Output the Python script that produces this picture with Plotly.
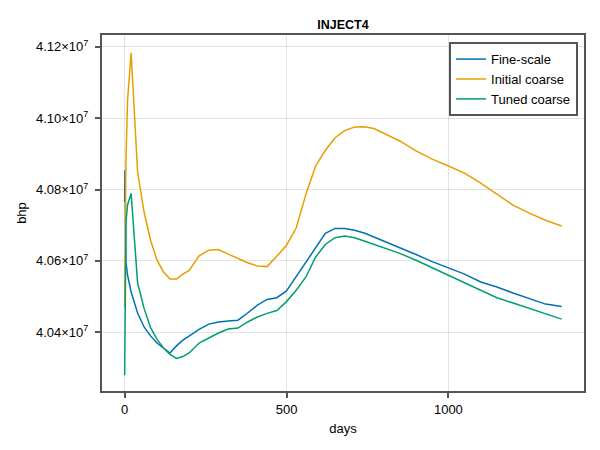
import numpy as np
import plotly.graph_objs as go

# bhp of well INJECT4, values in units of 1e7
days = [0, 1, 4, 9, 20, 40, 60, 80, 100, 120, 140, 160, 180, 200, 230, 260,
        290, 320, 350, 380, 410, 440, 470, 500, 530, 560, 590, 620, 650, 680,
        710, 740, 770, 800, 850, 900, 950, 1000, 1050, 1100, 1150, 1200,
        1250, 1300, 1350]

fine_scale = [4.0765, 4.0854, 4.0597, 4.0560, 4.0513, 4.0454, 4.0415, 4.0390,
              4.0370, 4.0356, 4.0342, 4.0362, 4.0378, 4.0390, 4.0408, 4.0423,
              4.0429, 4.0432, 4.0434, 4.0454, 4.0476, 4.0492, 4.0497, 4.0516,
              4.0556, 4.0597, 4.0639, 4.0677, 4.0691, 4.0691, 4.0686, 4.0678,
              4.0667, 4.0656, 4.0636, 4.0618, 4.0598, 4.0580, 4.0563, 4.0541,
              4.0527, 4.0510, 4.0495, 4.0479, 4.0472]

initial_coarse = [4.0469, 4.0602, 4.0882, 4.1050, 4.1183, 4.0849, 4.0737,
                  4.0658, 4.0602, 4.0569, 4.0549, 4.0549, 4.0563, 4.0574,
                  4.0614, 4.0630, 4.0632, 4.0619, 4.0607, 4.0595, 4.0586,
                  4.0584, 4.0613, 4.0644, 4.0692, 4.0787, 4.0866, 4.0910,
                  4.0945, 4.0965, 4.0975, 4.0976, 4.0971, 4.0958, 4.0936,
                  4.0908, 4.0885, 4.0866, 4.0846, 4.0818, 4.0786, 4.0756,
                  4.0734, 4.0714, 4.0698]

tuned_coarse = [4.0280, 4.0406, 4.0709, 4.0757, 4.0789, 4.0538, 4.0467,
                4.0413, 4.0380, 4.0356, 4.0338, 4.0327, 4.0332, 4.0343,
                4.0370, 4.0384, 4.0398, 4.0409, 4.0412, 4.0429, 4.0443,
                4.0453, 4.0461, 4.0486, 4.0518, 4.0555, 4.0611, 4.0646,
                4.0665, 4.0670, 4.0665, 4.0656, 4.0647, 4.0636, 4.0621,
                4.0602, 4.0581, 4.0560, 4.0538, 4.0517, 4.0497, 4.0482,
                4.0467, 4.0453, 4.0437]

ytick_vals = [4.04e7, 4.06e7, 4.08e7, 4.10e7, 4.12e7]
ytick_text = ['4.04×10<sup>7</sup>', '4.06×10<sup>7</sup>', '4.08×10<sup>7</sup>',
              '4.10×10<sup>7</sup>', '4.12×10<sup>7</sup>']

font = 'Liberation Sans, Arial, sans-serif'
spine = '#555555'
grid = 'rgba(0,0,0,0.11)'

series = [
    ('Fine-scale', fine_scale, '#0072B2'),
    ('Initial coarse', initial_coarse, '#E69F00'),
    ('Tuned coarse', tuned_coarse, '#009E73'),
]

fig = go.Figure()
for name, vals, color in series:
    fig.add_trace(go.Scatter(
        x=days,
        y=np.array(vals) * 1e7,
        mode='lines',
        line=dict(color=color, width=1.5),
        name=name
    ))

fig.update_layout(
    width=600,
    height=450,
    paper_bgcolor='white',
    plot_bgcolor='white',
    font=dict(family=font, size=12, color='black'),
    margin=dict(l=102, r=16, t=35, b=59),
    title=dict(
        text='<b>INJECT4</b>',
        x=(102 + 584) / 2 / 600,
        xanchor='center',
        y=1 - 25 / 450,
        yanchor='middle',
        yref='container',
        font=dict(size=12.5)
    ),
    xaxis=dict(
        title=dict(text='days', standoff=8, font=dict(size=13)),
        range=[-70, 1419],
        tickvals=[0, 500, 1000],
        ticks='outside',
        ticklen=5,
        tickwidth=1.5,
        tickcolor=spine,
        showgrid=True,
        gridcolor=grid,
        zeroline=False,
        showline=True,
        linecolor=spine,
        linewidth=2,
        mirror=True,
        automargin=False,
        tickfont=dict(size=13)
    ),
    yaxis=dict(
        title=dict(text='bhp', standoff=6, font=dict(size=13)),
        range=[4.02356e7, 4.12328e7],
        tickvals=ytick_vals,
        ticktext=ytick_text,
        ticks='outside',
        ticklen=5,
        tickwidth=1.5,
        tickcolor=spine,
        ticklabelstandoff=4,
        showgrid=True,
        gridcolor=grid,
        zeroline=False,
        showline=True,
        linecolor=spine,
        linewidth=2,
        mirror=True,
        automargin=False,
        tickfont=dict(size=13)
    ),
    legend=dict(
        x=0.9876,
        y=0.980,
        xanchor='right',
        yanchor='top',
        bgcolor='white',
        bordercolor=spine,
        borderwidth=2,
        itemwidth=30,
        font=dict(size=13)
    ),
    showlegend=True
)

# the page body has a default 8px margin; drop it so the figure sits at 0,0
fig.write_html("out.html", config={'displayModeBar': False},
               post_script="document.body.style.margin='0';")
